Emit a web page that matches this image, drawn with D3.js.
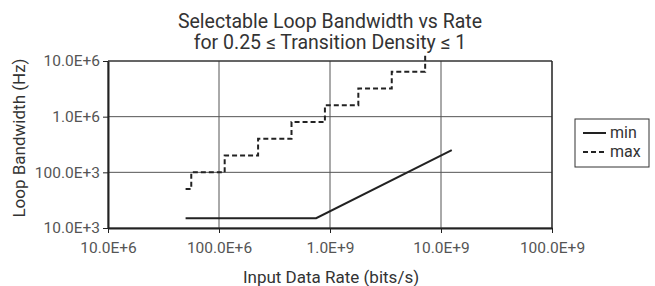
<!DOCTYPE html>
<html>
<head>
<meta charset="utf-8">
<script src="https://cdn.jsdelivr.net/npm/d3@7"></script>
<style>
  body { margin: 0; background: #fff; }
  text { font-family: Roboto, "Open Sans", sans-serif; }
</style>
</head>
<body>
<script>
// Tick values and labels
var xTicks = [1e7, 1e8, 1e9, 1e10, 1e11];
var xTickLabels = ["10.0E+6", "100.0E+6", "1.0E+9", "10.0E+9", "100.0E+9"];
var yTicks = [1e4, 1e5, 1e6, 1e7];
var yTickLabels = ["10.0E+3", "100.0E+3", "1.0E+6", "10.0E+6"];

// min series
var minRate = [50e6, 750e6, 12.5e9];
var minBW = [15e3, 15e3, 250e3];

// max series (staircase)
var maxRate = [50e6, 56.25e6, 112.5e6, 225e6, 450e6, 900e6, 1.8e9, 3.6e9, 7.2e9];
var maxBW = [50e3, 100e3, 200e3, 400e3, 800e3, 1.6e6, 3.2e6, 6.4e6, 12.8e6];

var seriesNames = ["min", "max"];

var w = 655, h = 286;
var pLeft = 108, pRight = 552, pTop = 61, pBottom = 228;

var svg = d3.select("body").append("svg")
    .attr("width", w)
    .attr("height", h);

var x = d3.scaleLog().domain([1e7, 1e11]).range([pLeft, pRight]);
var y = d3.scaleLog().domain([1e4, 1e7]).range([pBottom, pTop]);

//Grid lines
svg.append("g").selectAll("line")
    .data(xTicks)
    .enter().append("line")
    .attr("x1", d => x(d)).attr("x2", d => x(d))
    .attr("y1", pTop).attr("y2", pBottom)
    .attr("stroke", "#555").attr("stroke-width", 1);

svg.append("g").selectAll("line")
    .data(yTicks)
    .enter().append("line")
    .attr("x1", pLeft).attr("x2", pRight)
    .attr("y1", d => y(d)).attr("y2", d => y(d))
    .attr("stroke", "#555").attr("stroke-width", 1);

//Axes
var xAxis = d3.axisBottom(x).tickValues(xTicks)
    .tickFormat((d, i) => xTickLabels[i]).tickSize(5).tickSizeOuter(0);
var yAxis = d3.axisLeft(y).tickValues(yTicks)
    .tickFormat((d, i) => yTickLabels[i]).tickSize(5).tickSizeOuter(0);

var gx = svg.append("g").attr("transform", "translate(0," + pBottom + ")").call(xAxis);
var gy = svg.append("g").attr("transform", "translate(" + pLeft + ",0)").call(yAxis);

[gx, gy].forEach(g => {
    g.select(".domain").attr("stroke", "#222").attr("stroke-width", 2);
    g.selectAll(".tick line").attr("stroke", "#222").attr("stroke-width", 1);
    g.selectAll(".tick text")
        .attr("font-family", "Roboto, sans-serif")
        .attr("font-size", "15.5px")
        .attr("fill", "#555");
});
gx.selectAll(".tick text").attr("dy", "1.1em");

//Top and right border
svg.append("line").attr("x1", pLeft).attr("x2", pRight).attr("y1", pTop).attr("y2", pTop)
    .attr("stroke", "#222").attr("stroke-width", 1.2);
svg.append("line").attr("x1", pRight).attr("x2", pRight).attr("y1", pTop).attr("y2", pBottom)
    .attr("stroke", "#222").attr("stroke-width", 1.2);

//Lines
var minData = minRate.map((r, i) => [r, minBW[i]]);
var maxData = maxRate.map((r, i) => [r, maxBW[i]]);

svg.append("path")
    .datum(minData)
    .attr("fill", "none")
    .attr("stroke", "#222")
    .attr("stroke-width", 2)
    .attr("d", d3.line().x(d => x(d[0])).y(d => y(d[1])));

svg.append("path")
    .datum(maxData)
    .attr("fill", "none")
    .attr("stroke", "#222")
    .attr("stroke-width", 2)
    .attr("stroke-dasharray", "5,3")
    .attr("d", d3.line().curve(d3.curveStepAfter).x(d => x(d[0])).y(d => y(d[1])));

//Title, one text per line
var titleLines = ["Selectable Loop Bandwidth vs Rate", "for 0.25 \u2264 Transition Density \u2264 1"];
svg.selectAll("text.title")
    .data(titleLines)
    .enter().append("text")
    .attr("class", "title")
    .attr("x", 330)
    .attr("y", (d, i) => 28 + i * 21)
    .attr("text-anchor", "middle")
    .attr("font-size", "19.5px")
    .attr("fill", "#333")
    .text(d => d);

//Axis labels
svg.append("text")
    .attr("x", 331).attr("y", 283)
    .attr("text-anchor", "middle")
    .attr("font-size", "17px")
    .attr("fill", "#333")
    .text("Input Data Rate (bits/s)");

svg.append("text")
    .attr("transform", "translate(25,138) rotate(-90)")
    .attr("text-anchor", "middle")
    .attr("font-size", "17px")
    .attr("fill", "#333")
    .text("Loop Bandwidth (Hz)");

//Legend
var legend = svg.append("g");
legend.append("rect")
    .attr("x", 575).attr("y", 119)
    .attr("width", 74).attr("height", 48)
    .attr("fill", "#fff").attr("stroke", "#333").attr("stroke-width", 1);

var item = legend.selectAll("g.item")
    .data(seriesNames)
    .enter().append("g")
    .attr("class", "item")
    .attr("transform", (d, i) => "translate(0," + (133 + i * 19) + ")");

item.append("line")
    .attr("x1", 583).attr("x2", 606)
    .attr("stroke", "#222").attr("stroke-width", 2)
    .attr("stroke-dasharray", (d, i) => i === 1 ? "5,3" : null);

item.append("text")
    .attr("x", 610).attr("y", 5)
    .attr("font-size", "16px")
    .attr("fill", "#333")
    .text(d => d);
</script>
</body>
</html>
